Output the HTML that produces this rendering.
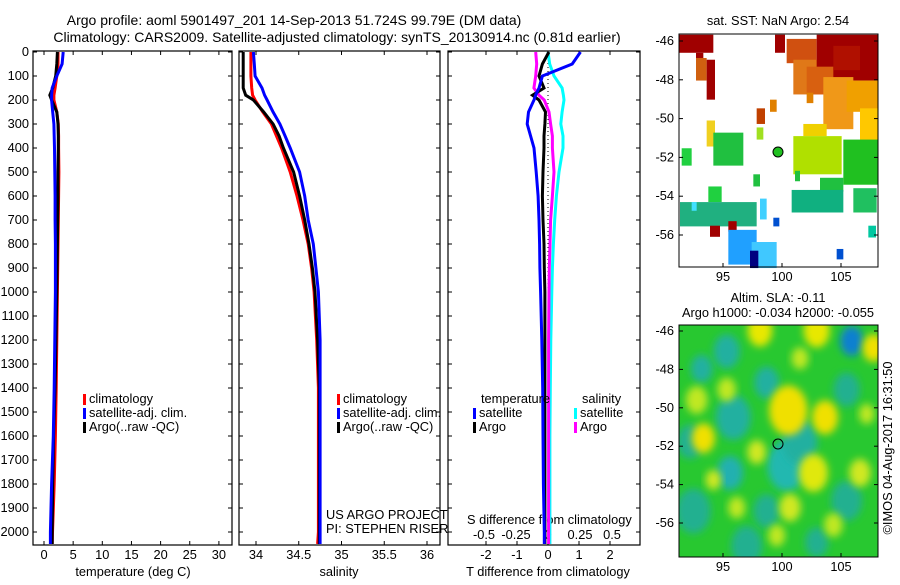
<!DOCTYPE html>
<html><head><meta charset="utf-8"><style>
body{margin:0;background:#fff}
svg text{font-family:"Liberation Sans",sans-serif;font-size:12.8px;fill:#000}
</style></head><body>
<svg id="c" width="900" height="580" xmlns="http://www.w3.org/2000/svg">
<defs>
<filter id="bl" x="-30%" y="-30%" width="160%" height="160%"><feGaussianBlur stdDeviation="4"/></filter>
<clipPath id="mc2"><rect x="679" y="325" width="199" height="232"/></clipPath>
</defs>
<text x="294" y="25" text-anchor="middle" style="font-size:14px">Argo profile: aoml 5901497_201 14-Sep-2013 51.724S 99.79E (DM data)</text>
<text x="337" y="42" text-anchor="middle" style="font-size:14px">Climatology: CARS2009. Satellite-adjusted climatology: synTS_20130914.nc (0.81d earlier)</text>
<g id="g"></g>
</svg>
<script>
const depths=[0,50,100,150,180,200,250,300,350,400,500,600,700,800,900,1000,1200,1400,1600,1800,2000,2050];
const tClim=[2.4,2.4,2.2,1.9,1.7,1.7,2.2,2.45,2.5,2.5,2.55,2.5,2.45,2.4,2.35,2.3,2.2,2.1,1.95,1.75,1.45,1.4];
const tArgo=[2.3,2.2,2.0,1.5,1.0,1.3,2.2,2.4,2.45,2.45,2.4,2.4,2.35,2.3,2.25,2.2,2.05,1.9,1.65,1.5,1.4,1.4];
const tSat=[3.3,3.1,2.2,1.4,1.3,1.3,1.5,1.7,1.75,1.8,1.85,1.9,1.9,1.95,1.95,1.95,1.85,1.75,1.6,1.3,1.1,1.1];
const sClim=[33.94,33.94,33.94,33.95,33.96,33.99,34.08,34.18,34.24,34.3,34.4,34.48,34.55,34.61,34.65,34.68,34.71,34.73,34.73,34.73,34.73,34.72];
const sArgo=[33.85,33.85,33.85,33.85,33.88,33.97,34.09,34.2,34.27,34.32,34.44,34.51,34.57,34.62,34.66,34.69,34.72,34.74,34.74,34.74,34.74,34.74];
const sSat=[33.97,33.98,33.99,34.07,34.10,34.13,34.2,34.28,34.34,34.4,34.51,34.57,34.61,34.67,34.7,34.73,34.75,34.75,34.75,34.75,34.75,34.75];
const tDiffSat=[1.05,0.78,-0.18,-0.29,-0.4,-0.45,-0.63,-0.67,-0.56,-0.45,-0.38,-0.32,-0.29,-0.27,-0.26,-0.24,-0.2,-0.17,-0.16,-0.15,-0.12,-0.12];
const tDiffArgo=[0.03,-0.18,-0.29,-0.13,-0.5,-0.29,-0.08,-0.1,-0.13,-0.13,-0.16,-0.18,-0.16,-0.13,-0.12,-0.1,-0.1,-0.1,-0.1,-0.1,-0.1,-0.1];
const sDiffSat=[0,0.013,0.047,0.11,0.12,0.125,0.11,0.1,0.117,0.117,0.086,0.066,0.052,0.042,0.034,0.03,0.022,0.018,0.015,0.015,0.015,0.015];
const sDiffArgo=[-0.096,-0.088,-0.096,-0.11,-0.07,-0.03,0.008,0.02,0.034,0.034,0.047,0.034,0.02,0.016,0.01,0.008,0.005,0.005,0.005,0.005,0.005,0.005];
const depthTicks=[0,100,200,300,400,500,600,700,800,900,1000,1100,1200,1300,1400,1500,1600,1700,1800,1900,2000];
const tempTicks=[0,5,10,15,20,25,30];
const salTicks=[34,34.5,35,35.5,36];
const salTickLabels=["34","34.5","35","35.5","36"];
const tdTicks=[-2,-1,0,1,2];
const sdTicks=[-0.5,-0.25,0,0.25,0.5];
const sdTickLabels=["-0.5","-0.25","0","0.25","0.5"];

const NS="http://www.w3.org/2000/svg",G=document.getElementById('g');
function mk(t,a,p){const e=document.createElementNS(NS,t);for(const k in a)e.setAttribute(k,a[k]);(p||G).appendChild(e);return e;}
const TOP=51,BOT=545;
const yD=d=>52+d*0.24;
const P1={x0:33,x1:232},P2={x0:239,x1:440},P3={x0:448,x1:640};
const xT=v=>44+v*5.83, xS=v=>256+(v-34)*85.5, xTD=v=>548+v*31, xSD=v=>548+v*128;

function frame(P,name){
 const r=mk('rect',{x:P.x0,y:TOP,width:P.x1-P.x0,height:BOT-TOP,fill:'none',stroke:'#000','stroke-width':1.2});
 
 
 depthTicks.forEach(d=>{const y=yD(d);mk('line',{x1:P.x0,x2:P.x0+4,y1:y,y2:y,stroke:'#000'});mk('line',{x1:P.x1-4,x2:P.x1,y1:y,y2:y,stroke:'#000'});});
}
frame(P1,'temperature-panel');frame(P2,'salinity-panel');frame(P3,'difference-panel');
depthTicks.forEach(d=>{const t=mk('text',{x:29,y:yD(d)+4,'text-anchor':'end'});t.textContent=d;
 
 });
function xticks(P,vals,labels,f,name){vals.forEach((v,i)=>{const x=f(v);mk('line',{x1:x,x2:x,y1:TOP,y2:TOP+4,stroke:'#000'});mk('line',{x1:x,x2:x,y1:BOT-4,y2:BOT,stroke:'#000'});
 const t=mk('text',{x:x,y:559,'text-anchor':'middle'});t.textContent=labels[i];
 
 });}
xticks(P1,tempTicks,tempTicks.map(String),xT,'temperature-tick-label');
xticks(P2,salTicks,salTickLabels,xS,'salinity-tick-label');
xticks(P3,tdTicks,tdTicks.map(String),xTD,'t-diff-tick-label');
sdTicks.forEach((v,i)=>{const t=mk('text',{x:xSD(v),y:539,'text-anchor':'middle'});t.textContent=sdTickLabels[i];
 
 });
function lbl(x,y,s,n,anchor){const t=mk('text',{x:x,y:y,'text-anchor':anchor||'start'});t.textContent=s;
 
 return t;}
lbl(133,576,'temperature (deg C)','temperature-axis-title','middle');
lbl(339,576,'salinity','salinity-axis-title','middle');
lbl(548,576,'T difference from climatology','t-diff-axis-title','middle');
lbl(467,524,'S difference from climatology','s-diff-axis-title');
mk('line',{x1:548,x2:548,y1:TOP,y2:BOT,stroke:'#000','stroke-dasharray':'1,3'});
function line(vals,f,col,name){const pts=vals.map((v,i)=>f(v).toFixed(1)+','+yD(depths[i]).toFixed(1)).join(' ');
 const l=mk('polyline',{points:pts,fill:'none',stroke:col,'stroke-width':3,'stroke-linejoin':'miter'});
 
 }
line(tClim,xT,'#f00','temp-climatology-line');line(tArgo,xT,'#000','temp-argo-line');line(tSat,xT,'#00f','temp-satellite-line');
line(sClim,xS,'#f00','sal-climatology-line');line(sArgo,xS,'#000','sal-argo-line');line(sSat,xS,'#00f','sal-satellite-line');
line(sDiffSat,xSD,'#0ff','s-diff-satellite-line');line(sDiffArgo,xSD,'#f0f','s-diff-argo-line');
line(tDiffArgo,xTD,'#000','t-diff-argo-line');line(tDiffSat,xTD,'#00f','t-diff-satellite-line');
function leg(x,y,col,s,n){mk('rect',{x:x,y:y-9,width:3,height:11,fill:col});lbl(x+6,y,s,n);}
leg(83,403,'#f00','climatology','legend-climatology');leg(83,417,'#00f','satellite-adj. clim.','legend-satellite');leg(83,431,'#000','Argo(..raw -QC)','legend-argo');
leg(337,403,'#f00','climatology','legend-climatology-2');leg(337,417,'#00f','satellite-adj. clim.','legend-satellite-2');leg(337,431,'#000','Argo(..raw -QC)','legend-argo-2');
lbl(481,403,'temperature','legend-temperature-header');lbl(582,403,'salinity','legend-salinity-header');
leg(473,417,'#00f','satellite','legend-t-satellite');leg(473,431,'#000','Argo','legend-t-argo');
leg(574,417,'#0ff','satellite','legend-s-satellite');leg(574,431,'#f0f','Argo','legend-s-argo');
lbl(326,519,'US ARGO PROJECT','project-label');lbl(326,533,'PI: STEPHEN RISER','pi-label');

lbl(778,25,'sat. SST: NaN Argo: 2.54','sst-map-title','middle');
lbl(778,302,'Altim. SLA: -0.11','sla-map-title','middle');
lbl(778,317,'Argo h1000: -0.034 h2000: -0.055','argo-height-label','middle');
const mx=z=>660+z/3, my=z=>25+z/2.88;
const sstCells=[[58,28,160,80,'#a00000'],[108,80,130,105,'#a00000'],[108,95,140,160,'#d06010'],[140,100,165,215,'#a00000'],
[345,28,375,80,'#a00000'],[380,40,470,110,'#d05010'],[400,100,500,200,'#e07818'],[470,28,655,160,'#a00000'],[440,120,520,200,'#d86010'],
[490,150,580,300,'#f09818'],[560,160,655,250,'#f0a000'],[600,240,655,370,'#ffc800'],[520,60,600,130,'#b01000'],
[440,195,460,225,'#e08000'],[330,215,350,250,'#e08000'],[290,240,315,285,'#c04000'],[290,295,310,330,'#a0e020'],
[140,275,165,350,'#f0d020'],[160,310,250,405,'#20c040'],[65,355,95,405,'#20d040'],[430,285,500,320,'#f0d000'],
[400,320,545,430,'#b0e000'],[550,330,655,460,'#20c020'],[280,430,300,465,'#20c040'],[405,420,420,450,'#20c040'],[480,440,550,480,'#20c040'],
[395,475,550,540,'#10b080'],[580,470,650,540,'#20c060'],[145,465,185,510,'#20d040'],[60,510,290,580,'#20b080'],[95,510,110,535,'#40e0ff'],
[150,578,180,610,'#a00000'],[205,565,230,595,'#a00000'],[205,590,290,690,'#20a0ff'],[275,625,350,700,'#40c8ff'],[270,650,295,700,'#000080'],
[340,555,358,580,'#0050d0'],[300,500,320,560,'#40d0ff'],[530,645,550,675,'#0050d0'],[625,578,648,612,'#00c8a0']];
sstCells.forEach(c=>{const r=mk('rect',{x:mx(c[0]),y:my(c[1]),width:(c[2]-c[0])/3,height:(c[3]-c[1])/2.88,fill:c[4]});
 
 });
const m1=mk('rect',{x:679,y:34,width:199,height:233,fill:'none',stroke:'#000'});


const dot1=mk('circle',{cx:778,cy:152,r:5,fill:'#20c020',stroke:'#000'});


const gb=mk('g',{'clip-path':'url(#mc2)'});
mk('rect',{x:679,y:325,width:199,height:232,fill:'#28c830'},gb);
const blobs=[[575,910,30,'#1080d0'],[125,990,28,'#20b0a0'],[320,1030,32,'#20b0a0'],[220,1130,45,'#20b0a0'],[380,1270,50,'#20b8b0'],[210,1290,34,'#20b0b0'],[100,1400,45,'#20b090'],[320,1400,34,'#20b090'],[560,1370,40,'#20b090'],[200,940,34,'#20b0a0'],[420,1200,45,'#20b0a0'],[90,1200,34,'#20b090'],[560,1050,34,'#20b090'],[260,1500,40,'#20b090'],[470,1490,30,'#20b090'],
[300,880,32,'#e8e800'],[470,880,34,'#e8e800'],[385,1110,50,'#f0e000'],[495,1130,34,'#f0e000'],[130,1190,30,'#f0e000'],[290,1230,24,'#d0e820'],[460,1290,38,'#e0e810'],[600,1290,28,'#d0e820'],[160,1310,20,'#d0e820'],[230,1390,22,'#c0e820'],[390,1390,28,'#d0e820'],[520,1440,24,'#c0e820'],[110,1080,28,'#c0e820'],[200,1050,24,'#c0e820'],[640,930,28,'#f0e000'],[350,1470,22,'#c0e820'],[420,960,22,'#c0e820'],[620,1120,20,'#c0e820']];
blobs.forEach(b=>{const e=mk('ellipse',{cx:mx(b[0]),cy:my(b[1]),rx:b[2]/2.6,ry:b[2]/2,fill:b[3],filter:'url(#bl)'},gb);
 
 });
const m2=mk('rect',{x:679,y:325,width:199,height:232,fill:'none',stroke:'#000'});


const dot2=mk('circle',{cx:778,cy:444,r:5,fill:'none',stroke:'#000'});


const latT=[-46,-48,-50,-52,-54,-56];
latT.forEach((v,i)=>{const y1=41+i*38.8,y2=331+i*38.4;
 [[y1,34,267],[y2,325,557]].forEach(a=>{mk('line',{x1:679,x2:683,y1:a[0],y2:a[0],stroke:'#000'});mk('line',{x1:874,x2:878,y1:a[0],y2:a[0],stroke:'#000'});
 const t=mk('text',{x:674,y:a[0]+4,'text-anchor':'end'});t.textContent=v;
 
 });});
const lonT=[95,100,105];
lonT.forEach(v=>{const x=782+(v-100)*11.8;
 [[267,281],[557,571]].forEach(a=>{mk('line',{x1:x,x2:x,y1:a[0]-4,y2:a[0],stroke:'#000'});
 const t=mk('text',{x:x,y:a[1],'text-anchor':'middle'});t.textContent=v;
 
 });});
const cr=lbl(0,0,'©IMOS 04-Aug-2017 16:31:50','timestamp-label','middle');
cr.setAttribute('transform','translate(892,448) rotate(-90)');
</script>
</body></html>
